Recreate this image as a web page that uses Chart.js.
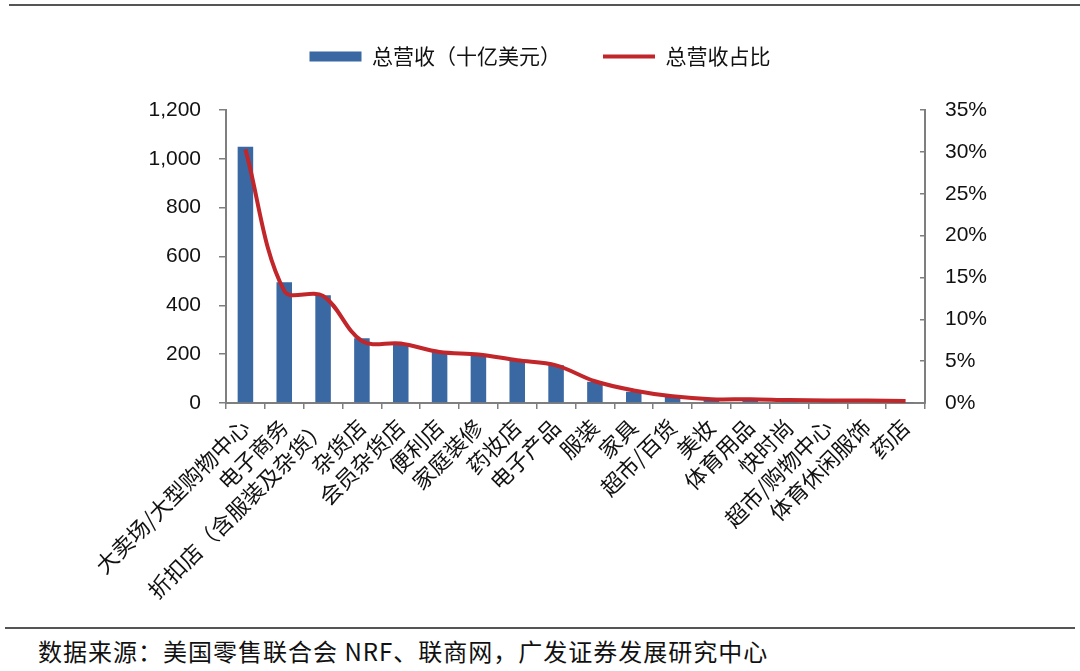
<!DOCTYPE html>
<html>
<head>
<meta charset="utf-8">
<script src="https://cdn.jsdelivr.net/npm/chart.js@4.4.0/dist/chart.umd.min.js"></script>
<style>
  body { margin: 0; background: #fff; }
  #wrap { position: relative; width: 1080px; height: 671px; overflow: hidden; }
  #topline { position: absolute; left: 9px; right: 0; top: 4px; height: 2px; background: #555; }
  #chartbox { position: absolute; left: 0; top: 0; width: 1080px; height: 600px; }
  #footline { position: absolute; left: 5px; width: 1070px; top: 627px; height: 2px; background: #555; }
  #source { position: absolute; left: 38px; top: 634px; font: 24px "Noto Sans CJK SC", sans-serif; letter-spacing: 1px; color: #111; line-height: 34px; white-space: nowrap; }
</style>
</head>
<body>
<div id="wrap">
  <div id="topline"></div>
  <div id="chartbox"><canvas id="myChart" width="1080" height="600"></canvas></div>
  <div id="footline"></div>
  <div id="source">数据来源：美国零售联合会 NRF、联商网，广发证券发展研究中心</div>
</div>
<script>
// categories (x axis)
const categories = [
  "大卖场/大型购物中心", "电子商务", "折扣店（含服装及杂货）", "杂货店", "会员杂货店",
  "便利店", "家庭装修", "药妆店", "电子产品", "服装", "家具", "超市/百货",
  "美妆", "体育用品", "快时尚", "超市/购物中心", "体育休闲服饰", "药店"
];
// total revenue, billion USD (left axis)
const revenue = [1050, 495, 441, 265, 245, 209, 196, 175, 155, 87, 46, 26, 12, 10, 5, 4, 3, 2];
// share of total revenue, % (right axis)
const share = [30.3, 13.4, 12.8, 7.4, 7.1, 6.1, 5.8, 5.1, 4.5, 2.6, 1.5, 0.8, 0.45, 0.45, 0.35, 0.3, 0.3, 0.25];
// tick labels
const leftTicks = [0, 200, 400, 600, 800, 1000, 1200];
const rightTicks = [0, 5, 10, 15, 20, 25, 30, 35];

const axisGray = "#7f7f7f";
const numFont = { family: "Liberation Sans, Arial, sans-serif", size: 21 };
const cjkFont = { family: "Noto Sans CJK SC, sans-serif", size: 22 };

const ctx = document.querySelector("#myChart").getContext("2d");

new Chart(ctx, {
  data: {
    labels: categories,
    datasets: [
      {
        type: "bar",
        label: "总营收（十亿美元）",
        data: revenue,
        backgroundColor: "#3A68A2",
        categoryPercentage: 1,
        barPercentage: 0.4,
        yAxisID: "y",
        order: 1,
      },
      {
        type: "line",
        label: "总营收占比",
        data: share,
        borderColor: "#C0262A",
        borderWidth: 4,
        pointRadius: 0,
        tension: 0.35,
        yAxisID: "y2",
        order: 0,
      },
    ],
  },
  options: {
    responsive: false,
    animation: false,
    layout: { padding: { top: 4, left: 0, right: 0, bottom: 0 } },
    plugins: {
      tooltip: { enabled: false },
      // empty title used as a spacer between legend and plot
      title: { display: true, text: "", weight: 500, font: { size: 10 }, padding: { top: 0, bottom: 21 } },
      legend: {
        position: "top",
        labels: {
          color: "#111",
          font: { family: "Noto Sans CJK SC, sans-serif", size: 21 },
          usePointStyle: true,
          pointStyleWidth: 52,
          boxHeight: 10,
          padding: 42,
          generateLabels: (chart) =>
            chart.data.datasets.map((ds, i) => ({
              text: ds.label,
              datasetIndex: i,
              fillStyle: ds.type === "line" ? ds.borderColor : ds.backgroundColor,
              strokeStyle: ds.type === "line" ? ds.borderColor : ds.backgroundColor,
              lineWidth: ds.type === "line" ? 4 : 0,
              pointStyle: ds.type === "line" ? "line" : "rect",
              fontColor: "#111",
              hidden: false,
            })),
        },
      },
    },
    scales: {
      x: {
        grid: { display: true, drawOnChartArea: false, drawTicks: true, tickLength: 6, color: axisGray, lineWidth: 1.5 },
        border: { display: true, color: axisGray, width: 2 },
        ticks: { color: "#111", font: cjkFont, minRotation: 45, maxRotation: 45, autoSkip: false, padding: 5 },
        afterFit: (s) => { s.height = 600 - 403; },
      },
      y: {
        position: "left",
        min: 0,
        max: 1200,
        afterBuildTicks: (s) => { s.ticks = leftTicks.map((v) => ({ value: v })); },
        grid: { display: true, drawOnChartArea: false, drawTicks: true, tickLength: 7, color: axisGray, lineWidth: 1.5 },
        border: { display: true, color: axisGray, width: 2 },
        ticks: { color: "#111", font: numFont, padding: 18, callback: (v) => v.toLocaleString("en-US") },
        afterFit: (s) => { s.width = 226; },
      },
      y2: {
        position: "right",
        min: 0,
        max: 35,
        afterBuildTicks: (s) => { s.ticks = rightTicks.map((v) => ({ value: v })); },
        grid: { display: true, drawOnChartArea: false, drawTicks: true, tickLength: -5, color: axisGray, lineWidth: 1.5 },
        border: { display: true, color: axisGray, width: 2 },
        ticks: { color: "#111", font: numFont, padding: 25, callback: (v) => v + "%" },
        afterFit: (s) => { s.width = 1080 - 925; },
      },
    },
  },
});
</script>
</body>
</html>
